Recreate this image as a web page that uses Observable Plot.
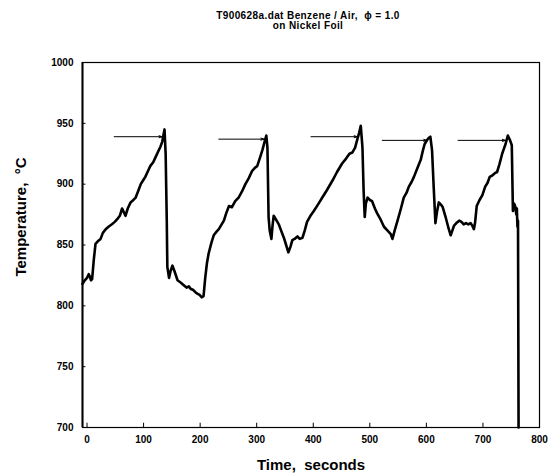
<!DOCTYPE html>
<html>
<head>
<meta charset="utf-8">
<script src="https://cdn.jsdelivr.net/npm/d3@7"></script>
<script src="https://cdn.jsdelivr.net/npm/@observablehq/plot@0.6"></script>
<style>
  body { margin: 0; background: #fff; }
  #title { width: 555px; box-sizing: border-box; padding-left: 61px; padding-top: 11px; height: 32px;
    text-align: center; font: bold 10px/10px "Liberation Sans", Arial, sans-serif; letter-spacing: 0.4px; color: #000; }
  svg { display: block; }
</style>
</head>
<body>
<div id="title">T900628a.dat Benzene / Air,&nbsp; ϕ = 1.0<br>on Nickel Foil</div>
<div id="chart"></div>
<script>
const time = [
  -8, -4, 0, 3, 5, 7, 9, 12, 15, 19,
  24, 28, 33, 38, 44, 49, 53, 58, 62, 65,
  68, 72, 77, 82, 86, 91, 95, 99, 103, 108,
  112, 117, 121, 126, 130, 133, 135, 137, 139, 141,
  142, 145, 148, 151, 155, 160, 166, 171, 176, 180,
  183, 188, 192, 195, 199, 203, 206, 209, 212, 215,
  220, 224, 229, 233, 238, 242, 246, 251, 256, 262,
  268, 274, 280, 286, 292, 296, 301, 306, 310, 314,
  317, 319, 321, 323, 326, 328, 330, 334, 339, 343,
  348, 352, 356, 360, 363, 367, 372, 376, 381, 385,
  389, 395, 401, 408, 416, 424, 434, 442, 451, 458,
  464, 469, 474, 478, 481, 484, 487, 489, 491, 493,
  496, 500, 504, 509, 513, 519, 525, 531, 537, 540,
  544, 549, 555, 560, 565, 569, 574, 578, 584, 590,
  594, 597, 601, 604, 607, 610, 613, 616, 619, 622,
  626, 629, 634, 639, 643, 646, 649, 653, 658, 662,
  666, 670, 674, 678, 681, 684, 686, 689, 694, 699,
  704, 708, 712, 716, 721, 725, 729, 734, 737, 740,
  744, 748, 751, 753, 755, 757, 759, 760, 761, 762,
  763
];
const temperature = [
  818, 821, 823, 826, 824, 821, 822, 838, 851, 853,
  855, 860, 863, 865, 867, 869, 871, 874, 880, 877,
  874, 880, 885, 887, 889, 895, 900, 903, 906, 911,
  915, 918, 922, 927, 931, 935, 940, 945, 925, 870,
  832, 823, 829, 833, 828, 821, 819, 817, 815, 816,
  814, 813, 811, 810, 809, 807, 808, 823, 835, 843,
  852, 858, 861, 863, 867, 870, 876, 882, 881, 886,
  889, 894, 900, 905, 911, 913, 915, 922, 928, 935,
  940, 930, 873, 862, 855, 866, 874, 871, 867, 862,
  856, 850, 844, 849, 854, 855, 857, 855, 856, 862,
  869, 874, 878, 883, 889, 895, 903, 910, 917, 921,
  925, 926, 930, 937, 942, 948, 930, 895, 873, 884,
  889, 887, 886, 880, 876, 871, 865, 862, 859, 855,
  862, 870, 880, 889, 893, 898, 902, 906, 913, 920,
  928, 933, 936, 938, 939, 928, 897, 868, 878, 885,
  883, 881, 873, 864, 858, 862, 866, 868, 870, 869,
  867, 868, 867, 868, 866, 863, 868, 882, 887, 891,
  898, 901, 906, 907, 909, 910, 916, 925, 929, 933,
  940, 936, 932, 878, 884, 882, 875, 880, 865, 870,
  700
];
// peak-marker arrows
const arrowStart = [48, 233, 396, 522, 656];
const arrowEnd = [133, 313, 478, 601, 740];
const arrowLevel = [939, 937, 939, 936, 936];

const xTicks = [0, 100, 200, 300, 400, 500, 600, 700, 800];
const yTicks = [700, 750, 800, 850, 900, 950, 1000];

const series = time.map((t, i) => ({t, T: temperature[i]}));
const arrows = arrowStart.map((s, i) => ({x1: s, x2: arrowEnd[i], y: arrowLevel[i]}));

const chart = Plot.plot({
  width: 555,
  height: 444,
  marginTop: 30,
  marginBottom: 49,
  marginLeft: 82,
  marginRight: 16,
  style: {fontFamily: "'Liberation Sans', Arial, sans-serif", color: "#000", background: "#fff"},
  x: {domain: [-8, 800]},
  y: {domain: [700, 1000]},
  marks: [
    Plot.frame({stroke: "#000", strokeWidth: 1.2}),
    Plot.ruleX([-8], {stroke: "#000", strokeWidth: 2}),
    Plot.ruleX(xTicks, {x: d => d, y1: 700, y2: 703.5, stroke: "#000", strokeWidth: 1}),
    Plot.ruleY(yTicks, {y: d => d, x1: -8, x2: -2, stroke: "#000", strokeWidth: 1}),
    Plot.axisX(xTicks, {tickSize: 0, tickPadding: 8, fontSize: 10, fontWeight: "bold", label: null, fill: "#000"}),
    Plot.axisY(yTicks, {tickSize: 0, tickPadding: 9, fontSize: 10, fontWeight: "bold", label: null, fill: "#000", tickFormat: d => String(d)}),
    Plot.arrow(arrows, {x1: "x1", x2: "x2", y1: "y", y2: "y", stroke: "#000", strokeWidth: 1, headLength: 5, headAngle: 35}),
    Plot.line(series, {x: "t", y: "T", stroke: "#000", strokeWidth: 2.6, strokeLinejoin: "round"}),
    Plot.text(["Time,  seconds"], {frameAnchor: "bottom", dy: 42, fontSize: 15, fontWeight: "bold", letterSpacing: 0.5, fill: "#000"}),
    Plot.text(["Temperature,  °C"], {frameAnchor: "left", textAnchor: "middle", dx: -61, dy: -28, rotate: -90, fontSize: 15, fontWeight: "bold", letterSpacing: 0.6, fill: "#000"})
  ]
});
document.getElementById("chart").appendChild(chart);
</script>
</body>
</html>
